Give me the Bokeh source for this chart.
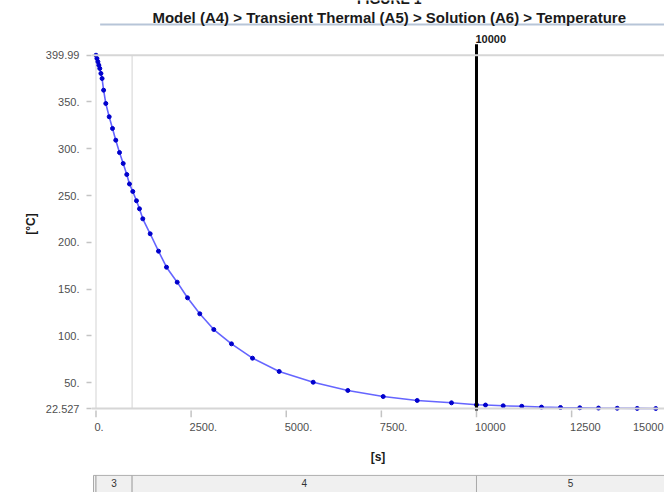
from bokeh.plotting import figure
from bokeh.models import Range1d, Span, Label, FixedTicker
from bokeh.layouts import column
from bokeh.embed import file_html
from bokeh.resources import INLINE
from bokeh.core.properties import value

# ---------------- data ----------------
time_s = [0, 25, 50, 75, 100, 130, 160, 200, 258, 347, 434, 520, 618, 715, 809,
          880, 967, 1064, 1143, 1230, 1424, 1643, 1853, 2134, 2405, 2728, 3096,
          3561, 4113, 4815, 5708, 6618, 7548, 8442, 9343, 10000, 10237, 10702,
          11190, 11708, 12208, 12715, 13206, 13698, 14223, 14712]
temp_c = [399.99, 396.5, 393.0, 389.3, 385.8, 380.5, 375.1, 362.6, 348.4, 334.2,
          321.7, 309.2, 296.0, 284.3, 272.5, 262.4, 254.4, 244.5, 235.9, 225.2,
          209.2, 190.6, 173.5, 157.5, 140.8, 123.7, 106.9, 91.6, 76.3, 62.1, 50.6,
          41.8, 35.3, 31.1, 28.6, 26.5, 26.2, 25.4, 24.9, 24.0, 23.6, 23.3, 23.0,
          22.8, 22.65, 22.53]

x_ticks = [0, 2500, 5000, 7500, 10000, 12500]
x_tick_labels = ["0.", "2500.", "5000.", "7500.", "10000", "12500"]
x_last_label = "15000"
y_ticks = [22.527, 50, 100, 150, 200, 250, 300, 350, 399.99]
y_tick_labels = ["22.527", "50.", "100.", "150.", "200.", "250.", "300.", "350.", "399.99"]

step_names = ["3", "4", "5"]
step_start = [0, 950, 10000]
step_end = [950, 10000, 16000]
marker_time = 10000
marker_label = "10000"

figure_text = "FIGURE 1"
title_text = "Model (A4) > Transient Thermal (A5) > Solution (A6) > Temperature"
x_label = "[s]"
y_label = "[°C]"

# ---------------- layout constants ----------------
FONT = "Liberation Sans"
W = 664
HEAD_H = 26
FRAME_L = 91                      # px from left of canvas
X_LO, X_HI = -118, 14941
PPU_X = (W - FRAME_L) / (X_HI - X_LO)
PPU_Y = 0.936                     # px per degree
Y_TOP_GRID = y_ticks[-1]
Y_BOT_GRID = y_ticks[0]
Y_HI = Y_TOP_GRID + 24.7 / PPU_Y  # frame top 24.7 px above the 399.99 line
Y_LO = Y_BOT_GRID - 9 / PPU_Y     # frame bottom 9 px below the 22.527 line
TICK_TOP = Y_BOT_GRID - 2 / PPU_Y
MARKER_TOP = Y_TOP_GRID + 11 / PPU_Y
GRID = "#d6d6d6"
LABEL_PX = 11

def label_width(s):
    return LABEL_PX * sum(0.278 if c == "." else 0.556 for c in s)

# ---------------- header (title + rule) ----------------
head = figure(width=W, height=HEAD_H, x_range=Range1d(0, W), y_range=Range1d(HEAD_H, 0),
              output_backend="svg", toolbar_location=None,
              min_border_left=0, min_border_right=0, min_border_top=0, min_border_bottom=0)
head.axis.visible = False
head.grid.visible = False
head.outline_line_color = None
head.border_fill_color = "white"
head.background_fill_color = "white"
head.segment(x0=[10], y0=[24], x1=[W], y1=[24], line_color="#b7c5d8", line_width=2)
head.add_layout(Label(x=345, y=-2, text=figure_text, text_font=FONT, text_font_size="14px",
                      text_font_style="bold", text_align="center", text_baseline="middle",
                      text_color="#1a1a1a"))
head.add_layout(Label(x=345, y=16.5, text=title_text, text_font=FONT, text_font_size="15px",
                      text_font_style="bold", text_align="center", text_baseline="middle",
                      text_color="#1a1a1a"))

# ---------------- main plot ----------------
p = figure(width=W, height=474 - HEAD_H, x_range=Range1d(X_LO, X_HI), y_range=Range1d(Y_LO, Y_HI),
           output_backend="svg", toolbar_location=None,
           min_border_left=FRAME_L, min_border_right=0, min_border_top=30 - HEAD_H,
           min_border_bottom=57)
p.xgrid.visible = False
p.ygrid.visible = False
p.outline_line_color = None
p.background_fill_color = "white"
p.border_fill_color = "white"

# frame lines
p.add_layout(Span(location=Y_TOP_GRID, dimension="width", line_color=GRID, line_width=2))
p.add_layout(Span(location=Y_BOT_GRID, dimension="width", line_color=GRID, line_width=2))
p.segment(x0=[0, step_end[0]], y0=[Y_BOT_GRID] * 2, x1=[0, step_end[0]], y1=[Y_TOP_GRID] * 2,
          line_color="#e2e2e2", line_width=1.5)
# x tick marks
p.segment(x0=x_ticks, y0=[TICK_TOP] * len(x_ticks), x1=x_ticks, y1=[Y_LO] * len(x_ticks),
          line_color="#c4c4c4", line_width=1.5)

# curve
p.line(time_s, temp_c, line_color="#4a4aff", line_width=1.6, line_alpha=0.85)
p.scatter(time_s, temp_c, size=4, color="#0000cc")

# marker line
p.segment(x0=[marker_time], y0=[TICK_TOP], x1=[marker_time], y1=[MARKER_TOP],
          line_color="black", line_width=3)
p.add_layout(Label(x=marker_time, y=MARKER_TOP, x_offset=-1, y_offset=1, text=marker_label,
                   text_font=FONT, text_font_size="11px", text_font_style="bold",
                   text_baseline="bottom", text_align="left", text_color="#1a1a1a"))

# axes: x labels start at their tick (as in the reference), so the label anchor is
# moved right by half the label width
label_pos = [t + (label_width(s) / 2 - 1.5) / PPU_X for t, s in zip(x_ticks, x_tick_labels)]
last_pos = X_HI - (label_width(x_last_label) / 2 + 1) / PPU_X
label_pos.append(last_pos)
all_labels = x_tick_labels + [x_last_label]
p.xaxis.ticker = FixedTicker(ticks=label_pos)
p.xaxis.major_label_overrides = dict(zip(label_pos, all_labels))
p.yaxis.ticker = FixedTicker(ticks=y_ticks)
p.yaxis.major_label_overrides = dict(zip(y_ticks, y_tick_labels))
for ax in (p.xaxis[0], p.yaxis[0]):
    ax.axis_line_color = None
    ax.minor_tick_line_color = None
    ax.major_tick_line_color = "#c4c4c4"
    ax.major_tick_line_width = 1.5
    ax.major_tick_in = 0
    ax.major_label_text_font = FONT
    ax.major_label_text_font_size = f"{LABEL_PX}px"
    ax.major_label_text_color = "#4f4f4f"
    ax.axis_label_text_font = FONT
    ax.axis_label_text_font_size = "12px"
    ax.axis_label_text_font_style = "bold"
    ax.axis_label_text_color = "#1a1a1a"
p.xaxis.major_tick_line_color = None
p.xaxis.major_tick_out = 0
p.yaxis.major_tick_out = 5
p.xaxis.major_label_standoff = 5
p.yaxis.major_label_standoff = 7
p.xaxis.axis_label = x_label
p.yaxis.axis_label = y_label
p.xaxis.axis_label_standoff = 16
p.yaxis.axis_label_standoff = 5

# ---------------- step bar ----------------
bar = figure(width=W, height=18, x_range=p.x_range, y_range=Range1d(0, 1.05),
             output_backend="svg", toolbar_location=None,
             min_border_left=FRAME_L, min_border_right=0, min_border_top=0, min_border_bottom=0)
bar.axis.visible = False
bar.grid.visible = False
bar.outline_line_color = None
bar.quad(left=[-65], right=[0], bottom=[-1], top=[1], fill_color="#f3f3f3",
         line_color="#a9a9a9", line_width=1)
bar.quad(left=step_start, right=step_end, bottom=[-1] * 3, top=[1] * 3,
         fill_color="#f0f0f0", line_color="#a9a9a9", line_width=1)
bar.text(x=[(a + b) / 2 for a, b in zip(step_start, [step_end[0], step_end[1], X_HI])],
         y=[0.57] * 3, text=step_names, text_font=value(FONT), text_font_size="10px",
         text_align="center", text_baseline="middle", text_color="#333333")

layout = column(head, p, bar, spacing=0)
open("out.html", "w").write(file_html(layout, INLINE))
